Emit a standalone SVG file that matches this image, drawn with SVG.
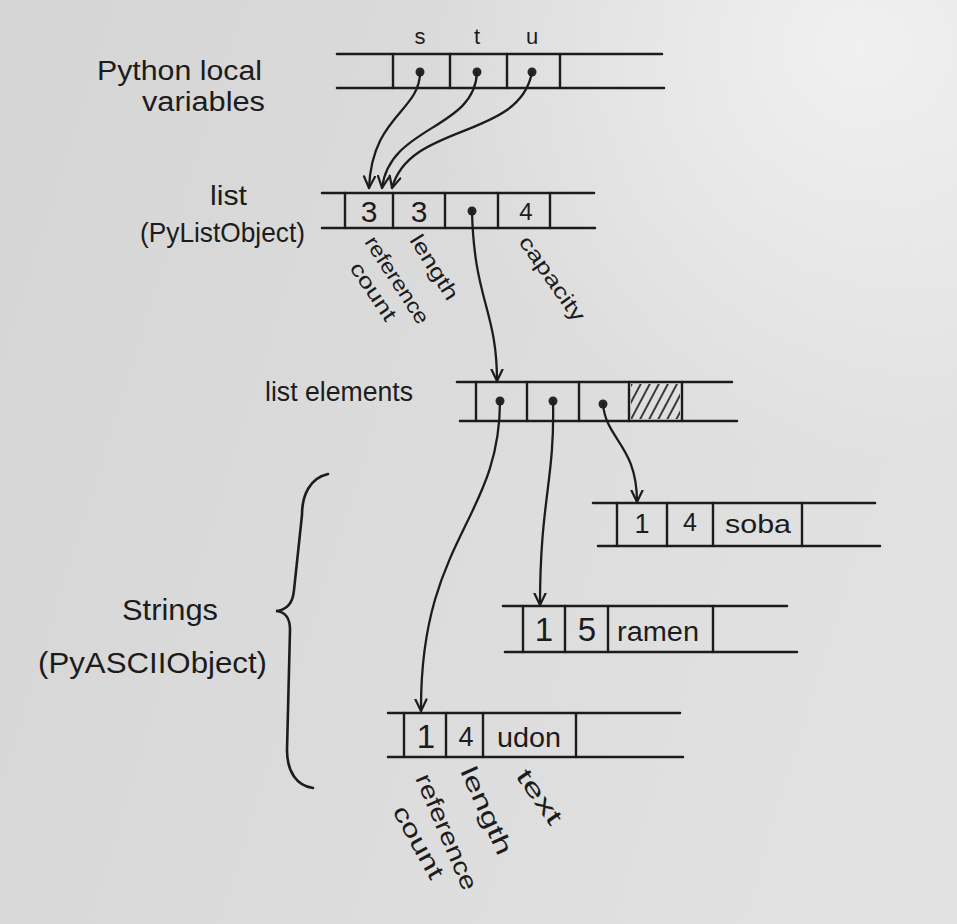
<svg xmlns="http://www.w3.org/2000/svg" width="957" height="924" viewBox="0 0 957 924">
  <defs>
    <linearGradient id="paper" x1="0" y1="0" x2="1" y2="0.3">
      <stop offset="0" stop-color="#d5d5d5"/>
      <stop offset="1" stop-color="#e1e1e1"/>
    </linearGradient>
    <radialGradient id="glow" cx="0.9" cy="0.05" r="0.45">
      <stop offset="0" stop-color="#f2f2f2" stop-opacity="0.9"/>
      <stop offset="1" stop-color="#f2f2f2" stop-opacity="0"/>
    </radialGradient>
    <pattern id="hatch" width="8" height="8" patternUnits="userSpaceOnUse" patternTransform="rotate(28)">
      <line x1="2" y1="0" x2="2" y2="8" stroke="#3a3a3a" stroke-width="2"/>
    </pattern>
    <marker id="arr" viewBox="0 0 14 14" refX="12.5" refY="7" markerWidth="14" markerHeight="14" markerUnits="userSpaceOnUse" orient="auto">
      <path d="M1,1.5 L12.5,7 L1,12.5" fill="none" stroke="#1c1c1c" stroke-width="2.2" stroke-linecap="round" stroke-linejoin="round"/>
    </marker>
    <style>
      .ln { stroke:#1c1c1c; stroke-width:2.6; fill:none; stroke-linecap:round; }
      .dv { stroke:#1c1c1c; stroke-width:2.4; fill:none; stroke-linecap:round; }
      .dot { fill:#262626; }
      .t { font-family:"Liberation Sans", Arial, sans-serif; fill:#1c1c1c; }
      .rot { font-size:21px; }
      .rot2 { font-size:24px; }
      .val { text-anchor:middle; }
      .con { stroke:#1c1c1c; stroke-width:2.3; fill:none; stroke-linecap:round; marker-end:url(#arr); }
    </style>
  </defs>

  <rect width="957" height="924" fill="url(#paper)"/>
  <rect width="957" height="924" fill="url(#glow)"/>

  <!-- Python local variables -->
  <g id="locals">
    <text class="t" x="97" y="80" font-size="27" textLength="165" lengthAdjust="spacingAndGlyphs">Python local</text>
    <text class="t" x="142" y="111" font-size="27" textLength="123" lengthAdjust="spacingAndGlyphs">variables</text>
    <text class="t val" x="420" y="44" font-size="22">s</text>
    <text class="t val" x="477" y="44" font-size="22">t</text>
    <text class="t val" x="532" y="44" font-size="22">u</text>
    <path class="ln" d="M337,54 H662 M337,88 H664"/>
    <path class="dv" d="M393,54 V88 M450,54 V88 M507,54 V88 M560,54 V88"/>
    <circle class="dot" cx="420" cy="72" r="4.5"/>
    <circle class="dot" cx="477" cy="72" r="4.5"/>
    <circle class="dot" cx="532" cy="72" r="4.5"/>
  </g>

  <!-- list (PyListObject) -->
  <g id="list">
    <text class="t" x="210" y="205" font-size="28" textLength="37" lengthAdjust="spacingAndGlyphs">list</text>
    <text class="t" x="140" y="242" font-size="28" textLength="165" lengthAdjust="spacingAndGlyphs">(PyListObject)</text>
    <path class="ln" d="M322,193 H594 M322,228 H595"/>
    <path class="dv" d="M345,193 V228 M393,193 V228 M445,193 V228 M498,193 V228 M550,193 V228"/>
    <text class="t val" x="369" y="222" font-size="30">3</text>
    <text class="t val" x="419" y="222" font-size="30">3</text>
    <circle class="dot" cx="472" cy="211" r="4.5"/>
    <text class="t val" x="526" y="220" font-size="24">4</text>
    <text class="t rot" transform="translate(364,242) rotate(57)" textLength="100" lengthAdjust="spacingAndGlyphs">reference</text>
    <text class="t rot" transform="translate(349,268) rotate(56)" textLength="66" lengthAdjust="spacingAndGlyphs">count</text>
    <text class="t rot" transform="translate(409,240) rotate(58)" textLength="73" lengthAdjust="spacingAndGlyphs">length</text>
    <text class="t rot" transform="translate(518,242) rotate(55)" textLength="99" lengthAdjust="spacingAndGlyphs">capacity</text>
  </g>

  <!-- list elements -->
  <g id="elements">
    <text class="t" x="265" y="401" font-size="27" textLength="148" lengthAdjust="spacingAndGlyphs">list elements</text>
    <rect x="631" y="384" width="49" height="35" fill="url(#hatch)"/>
    <path class="ln" d="M457,382 H732 M460,421 H737"/>
    <path class="dv" d="M476,382 V421 M527,382 V421 M579,382 V421 M629,382 V421 M682,382 V421"/>
    <circle class="dot" cx="500" cy="401" r="4.5"/>
    <circle class="dot" cx="553" cy="401" r="4.5"/>
    <circle class="dot" cx="603" cy="404" r="4.5"/>
  </g>

  <!-- soba -->
  <g id="soba">
    <path class="ln" d="M593,503 H875 M598,546 H880"/>
    <path class="dv" d="M617,503 V546 M667,503 V546 M713,503 V546 M802,503 V546"/>
    <text class="t val" x="642" y="533" font-size="27">1</text>
    <text class="t val" x="690" y="531" font-size="25">4</text>
    <text class="t" x="725" y="533" font-size="26" textLength="66" lengthAdjust="spacingAndGlyphs">soba</text>
  </g>

  <!-- ramen -->
  <g id="ramen">
    <path class="ln" d="M503,606 H787 M505,652 H797"/>
    <path class="dv" d="M523,606 V652 M565,606 V652 M608,606 V652 M713,606 V652"/>
    <text class="t val" x="544" y="641" font-size="33">1</text>
    <text class="t val" x="587" y="641" font-size="33">5</text>
    <text class="t" x="617" y="641" font-size="27" textLength="82" lengthAdjust="spacingAndGlyphs">ramen</text>
  </g>

  <!-- udon -->
  <g id="udon">
    <path class="ln" d="M388,713 H680 M388,757 H683"/>
    <path class="dv" d="M404,713 V757 M446,713 V757 M483,713 V757 M576,713 V757"/>
    <text class="t val" x="426" y="748" font-size="33">1</text>
    <text class="t val" x="466" y="746" font-size="27">4</text>
    <text class="t" x="497" y="747" font-size="27" textLength="64" lengthAdjust="spacingAndGlyphs">udon</text>
    <text class="t rot2" transform="translate(415,778) rotate(67)" textLength="124" lengthAdjust="spacingAndGlyphs">reference</text>
    <text class="t rot2" transform="translate(392,811) rotate(61)" textLength="80" lengthAdjust="spacingAndGlyphs">count</text>
    <text class="t rot2" transform="translate(460,771) rotate(66)" textLength="94" lengthAdjust="spacingAndGlyphs">length</text>
    <text class="t rot2" transform="translate(515,776) rotate(55)" font-size="27" textLength="62" lengthAdjust="spacingAndGlyphs">text</text>
  </g>

  <!-- Strings (PyASCIIObject) with brace -->
  <g id="strings">
    <text class="t" x="122" y="620" font-size="29" textLength="96" lengthAdjust="spacingAndGlyphs">Strings</text>
    <text class="t" x="38" y="673" font-size="30" textLength="229" lengthAdjust="spacingAndGlyphs">(PyASCIIObject)</text>
    <path class="ln" d="M328,474 C310,478 302,495 302,515 L294,590 C293,603 287,610 276,611 C286,612 290,618 290,630 L287,750 C287,772 297,786 313,788"/>
  </g>

  <!-- connectors -->
  <g id="connectors">
    <path class="con" d="M420,72 C420,112 372,115 369,188"/>
    <path class="con" d="M477,72 C475,130 390,125 382,188"/>
    <path class="con" d="M532,72 C520,140 410,122 392,188"/>
    <path class="con" d="M472,211 C474,300 497,310 497,381"/>
    <path class="con" d="M500,401 C500,520 420,540 421,711"/>
    <path class="con" d="M553,401 C555,480 540,500 540,605"/>
    <path class="con" d="M603,404 C606,440 637,445 637,502"/>
  </g>
</svg>
